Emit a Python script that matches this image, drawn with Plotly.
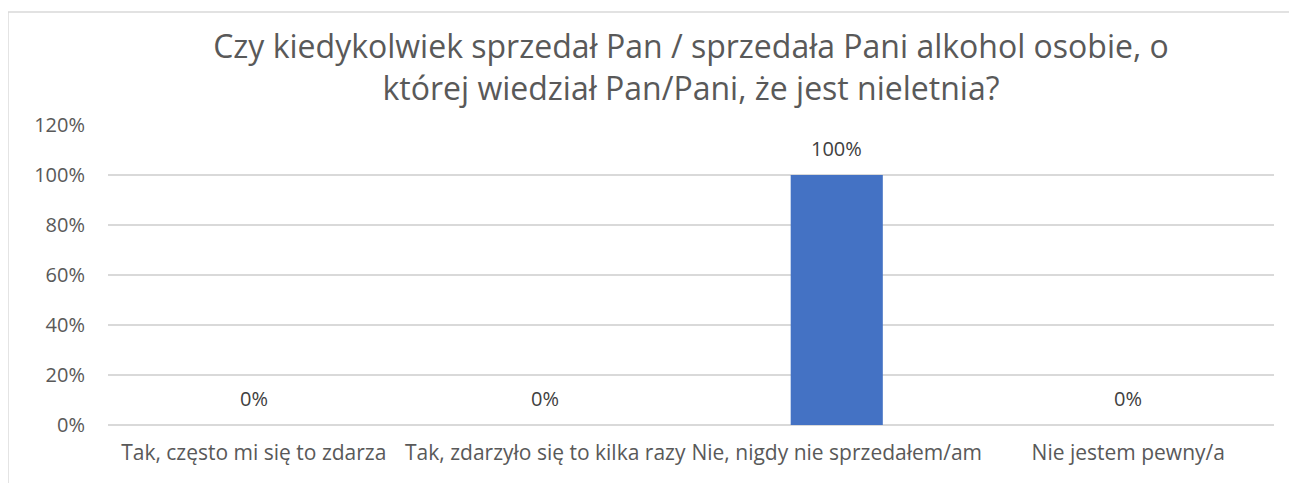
import plotly.graph_objects as go

# data
categories = [
    "Tak, często mi się to zdarza",
    "Tak, zdarzyło się to kilka razy",
    "Nie, nigdy nie sprzedałem/am",
    "Nie jestem pewny/a",
]
values = [0.0, 0.0, 1.0, 0.0]
y_ticks = [0, 0.2, 0.4, 0.6, 0.8, 1.0, 1.2]
title = ("Czy kiedykolwiek sprzedał Pan / sprzedała Pani alkohol osobie, o<br>"
         "której wiedział Pan/Pani, że jest nieletnia?")

FONT = "Open Sans, Calibri, sans-serif"

fig = go.Figure()
fig.add_trace(go.Bar(
    x=categories, y=values,
    marker=dict(color="#4472C4", line=dict(width=0)),
    hoverinfo="skip",
))

# data labels above the bars
for c, v in zip(categories, values):
    fig.add_annotation(
        x=c, y=v, text=f"{v:.0%}", showarrow=False, yshift=27,
        font=dict(family=FONT, size=20, color="#404040"),
    )

# chart border (only left and top edges fall inside the picture)
fig.add_shape(type="rect", xref="paper", yref="paper",
              x0=-0.0858, x1=1.2, y0=-0.6, y1=1.3767,
              line=dict(color="#d9d9d9", width=1.5), layer="below")

# the page body adds 8px on top/left, so the figure is sized to compensate
fig.update_layout(
    width=1289, height=475,
    margin=dict(l=100, r=23, t=117, b=58),
    paper_bgcolor="white", plot_bgcolor="white",
    bargap=0.684,
    showlegend=False,
    title=dict(text=title, x=0.5, xref="paper", xanchor="center",
               y=1 - 50 / 475, yref="container", yanchor="top",
               font=dict(family=FONT, size=32, color="#595959")),
    xaxis=dict(showgrid=False, showline=False, ticks="",
               ticklabelstandoff=13,
               tickfont=dict(family=FONT, size=21, color="#595959")),
    yaxis=dict(range=[0, 1.2], tickvals=y_ticks, tickformat=".0%",
               showgrid=True, gridcolor="#d9d9d9", gridwidth=1.5,
               zeroline=True, zerolinecolor="#d9d9d9", zerolinewidth=1.5,
               showline=False, ticks="", ticklen=0, ticklabelstandoff=22,
               tickfont=dict(family=FONT, size=20, color="#595959")),
)

fig.write_html("out.html")
